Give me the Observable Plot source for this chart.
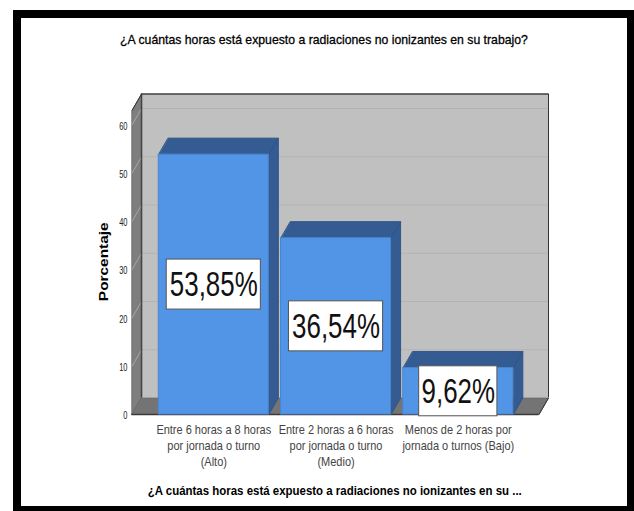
<!DOCTYPE html>
<html>
<head>
<meta charset="utf-8">
<script src="https://cdn.jsdelivr.net/npm/d3@7"></script>
<script src="https://cdn.jsdelivr.net/npm/@observablehq/plot@0.6"></script>
<style>
  html, body { margin: 0; padding: 0; background: #fff; }
  #page { position: relative; width: 634px; height: 511px; overflow: hidden; }
  #frame { position: absolute; left: 13px; top: 10px; width: 606px; height: 488px; border: 8px solid #000; }
  #chart { position: absolute; left: 0; top: 0; }
  #title { position: absolute; left: 0; width: 648px; top: 32px; text-align: center; white-space: nowrap;
           font: 13.5px "Liberation Sans", Arial, sans-serif; -webkit-text-stroke: 0.3px #000; color: #000;
           transform: scaleX(0.907); transform-origin: 324px 0; }
</style>
</head>
<body>
<div id="page">
  <div id="frame"></div>
  <div id="chart"></div>
  <div id="title"></div>
</div>
<script>
const titleText = "¿A cuántas horas está expuesto a radiaciones no ionizantes en su trabajo?";
const xAxisTitle = "¿A cuántas horas está expuesto a radiaciones no ionizantes en su ...";
const yAxisTitle = "Porcentaje";
const categories = [
  "Entre 6 horas a 8 horas\npor jornada o turno\n(Alto)",
  "Entre 2 horas a 6 horas\npor jornada o turno\n(Medio)",
  "Menos de 2 horas por\njornada o turnos (Bajo)"
];
const values = [53.85, 36.54, 9.62];
const valueLabels = ["53,85%", "36,54%", "9,62%"];
const yTicks = [0, 10, 20, 30, 40, 50, 60];

// Depth of the extruded box, in scale units
const depthX = 0.078;
const depthY = 3.42;
const halfBar = 0.45;
const xMin = -0.669, xMax = 2.66, yTop = 66.42;
// Half extents of the white boxes behind the value labels
const labelHalfWidths = [0.385, 0.385, 0.32];
const labelHalfHeight = 5.18;

const idx = categories.map((_, i) => i);

// Closed polygons for the walls, floor and bar faces
const poly = (id, pts) => pts.map(([x, y]) => ({id, x, y}));
const leftWall = poly("left", [[xMin, 0], [xMin + depthX, depthY], [xMin + depthX, yTop], [xMin, yTop - depthY]]);
const floor = poly("floor", [[xMin, 0], [xMax, 0], [xMax + depthX, depthY], [xMin + depthX, depthY]]);
const barTops = idx.flatMap(i => poly("t" + i, [
  [i - halfBar, values[i]], [i + halfBar, values[i]],
  [i + halfBar + depthX, values[i] + depthY], [i - halfBar + depthX, values[i] + depthY]
]));
const barSides = idx.flatMap(i => poly("s" + i, [
  [i + halfBar, 0], [i + halfBar + depthX, depthY],
  [i + halfBar + depthX, values[i] + depthY], [i + halfBar, values[i]]
]));
const facet = (fill, stroke, data) => Plot.line(data, {x: "x", y: "y", z: "id", fill, stroke, strokeWidth: 1, curve: "linear-closed"});

// The chart's lettering is narrower than the installed faces, so squeeze it horizontally
const squeeze = ratio => (index, scales, values, dimensions, context, next) => {
  const g = next(index, scales, values, dimensions, context);
  d3.select(g).selectAll("text").attr("transform", function () {
    return `${this.getAttribute("transform") || ""} scale(${ratio},1)`;
  });
  return g;
};

const chart = Plot.plot({
  width: 634,
  height: 511,
  marginLeft: 131.5,
  marginRight: 86,
  marginTop: 93.5,
  marginBottom: 97,
  style: {background: "transparent", fontFamily: "'Liberation Sans', sans-serif"},
  x: {domain: [xMin, xMax + depthX], axis: null},
  y: {domain: [0, yTop], axis: null},
  marks: [
    // Back wall
    Plot.rect([0], {x1: xMin + depthX, x2: xMax + depthX, y1: depthY, y2: yTop, fill: "#c0c0c0"}),
    // Gridlines on the back wall and their slants on the left wall
    Plot.ruleY(yTicks.slice(1), {x1: xMin + depthX, x2: xMax + depthX, y: d => d + depthY, stroke: "#b3b3b3", strokeWidth: 1.2}),
    facet("#7e7e7e", "#6e6e6e", leftWall),
    Plot.link(yTicks.slice(1), {x1: xMin, y1: d => d, x2: xMin + depthX, y2: d => d + depthY, stroke: "#a8a8a8", strokeWidth: 1}),
    facet("#747474", "#6a6a6a", floor),
    // Outline of the wall box
    Plot.ruleY([yTop], {x1: xMin + depthX, x2: xMax + depthX, stroke: "#000", strokeWidth: 1.2}),
    Plot.ruleX([xMax + depthX], {y1: depthY, y2: yTop, stroke: "#333", strokeWidth: 1}),
    Plot.ruleX([xMin + depthX], {y1: depthY, y2: yTop, stroke: "#444", strokeWidth: 1.5}),
    Plot.link([0], {x1: xMin + depthX, y1: yTop, x2: xMin, y2: yTop - depthY, stroke: "#333", strokeWidth: 1}),
    Plot.link([0], {x1: xMax, y1: 0, x2: xMax + depthX, y2: depthY, stroke: "#333", strokeWidth: 1}),
    Plot.ruleY([0], {x1: xMin, x2: xMax, stroke: "#3a3a3a", strokeWidth: 1.5}),
    // Bars
    facet("#345c92", "#2f5588", barSides),
    facet("#345c92", "#2f5588", barTops),
    Plot.rect(idx, {x1: i => i - halfBar, x2: i => i + halfBar, y1: 0, y2: i => values[i], fill: "#5294e5", stroke: "#4a86cf", strokeWidth: 1}),
    // Value labels on white boxes
    Plot.rect(idx, {
      x1: i => i - labelHalfWidths[i], x2: i => i + labelHalfWidths[i],
      y1: i => values[i] / 2 - labelHalfHeight, y2: i => values[i] / 2 + labelHalfHeight,
      fill: "#fff", stroke: "#555", strokeWidth: 1
    }),
    Plot.text(idx, {
      x: i => i, y: i => values[i] / 2, text: i => valueLabels[i],
      fontSize: 36, fill: "#111", stroke: "none", lineAnchor: "middle", render: squeeze(0.72)
    }),
    // Axes
    Plot.axisY({ticks: yTicks, tickSize: 0, tickPadding: 4.5, fontSize: 11, color: "#222", label: null, anchor: "left", tickFormat: d => d, dy: 1.2, render: squeeze(0.68)}),
    Plot.text([yAxisTitle], {frameAnchor: "left", dx: -28.5, dy: 7.5, rotate: -90, text: d => d, fontSize: 13, fontWeight: "bold", textAnchor: "middle", render: squeeze(1.185)}),
    Plot.text(idx, {x: i => i, y: 0, text: i => categories[i], lineAnchor: "top", lineHeight: 1.185, dy: 8.5, fontSize: 13.5, fill: "#444", render: squeeze(0.815)}),
    Plot.text([xAxisTitle], {frameAnchor: "bottom", dx: -5.5, dy: 80, text: d => d, fontSize: 13, fontWeight: "bold", render: squeeze(0.882)})
  ]
});
document.getElementById("chart").appendChild(chart);
document.getElementById("title").textContent = titleText;
</script>
</body>
</html>
